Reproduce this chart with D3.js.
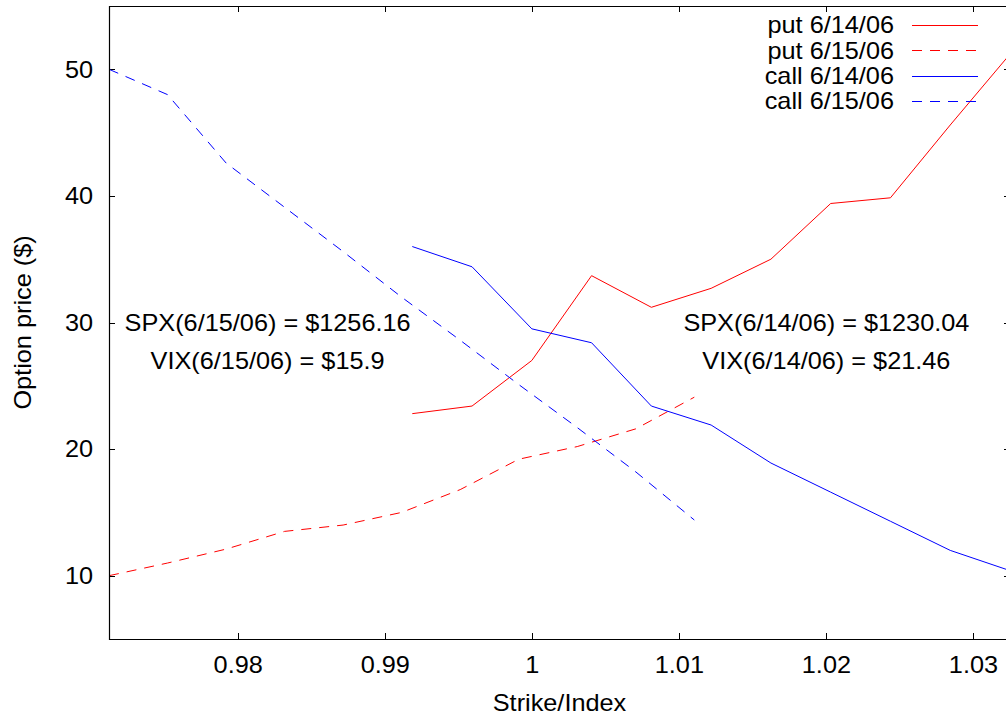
<!DOCTYPE html>
<html>
<head>
<meta charset="utf-8">
<script src="https://cdn.jsdelivr.net/npm/d3@7"></script>
<style>
html,body{margin:0;padding:0;background:#fff;}
svg{display:block;}
text{font-family:"Liberation Sans", Arial, sans-serif;fill:#000;}
</style>
</head>
<body>
<svg id="chart" width="1006" height="717"></svg>
<script>
// ---- data ----
const strikes = [1220, 1225, 1230, 1235, 1240, 1245, 1250, 1255, 1260, 1265, 1270];
const spx0614 = 1230.04;
const spx0615 = 1256.16;
const put0614  = [22.8, 23.4, 27.0, 33.7, 31.2, 32.7, 35.0, 39.4, 39.85, 45.6, 51.2];
const put0615  = [10.0, 11.0, 12.1, 13.5, 14.0, 15.0, 16.8, 19.2, 20.2, 21.6, 24.1];
const call0614 = [36.0, 34.4, 29.5, 28.4, 23.4, 21.9, 18.9, 16.6, 14.3, 12.0, 10.4];
const call0615 = [50.0, 48.0, 42.6, 39.1, 35.6, 32.0, 28.6, 25.1, 21.7, 18.2, 14.4];
const seriesNames = ["put 6/14/06", "put 6/15/06", "call 6/14/06", "call 6/15/06"];
const seriesColors = ["#ff0000", "#ff0000", "#0000ff", "#0000ff"];
const xTicks = [0.98, 0.99, 1, 1.01, 1.02, 1.03];
const yTicks = [10, 20, 30, 40, 50];
const yDomain = [5, 55];
const annotations = [
  {text: "SPX(6/15/06) = $1256.16", x: 0.982, y: 30},
  {text: "VIX(6/15/06) = $15.9",    x: 0.982, y: 27},
  {text: "SPX(6/14/06) = $1230.04", x: 1.02,  y: 30},
  {text: "VIX(6/14/06) = $21.46",   x: 1.02,  y: 27}
];

// ---- layout ----
const L = 109, R = 1010, T = 6, B = 639;
const FS = 23, SX = 1.1;
const svg = d3.select("#chart");
svg.append("rect").attr("width", 1006).attr("height", 717).attr("fill", "#fff");

const x = d3.scaleLinear()
  .domain([strikes[0] / spx0615, strikes[strikes.length - 1] / spx0614])
  .range([L, R]);
const y = d3.scaleLinear().domain(yDomain).range([B, T]);

function label(px, py, str, anchor, rot) {
  const g = svg.append("g")
    .attr("transform", `translate(${px},${py}) rotate(${rot || 0}) scale(${SX},1)`);
  return g.append("text").attr("text-anchor", anchor).attr("font-size", FS).text(str);
}

// clip
svg.append("defs").append("clipPath").attr("id", "clip")
  .append("rect").attr("x", L).attr("y", T).attr("width", R - L).attr("height", B - T);

// ticks (inward, mirrored)
const tk = 6;
const axes = svg.append("g");
function tick(x1, y1, x2, y2) {
  axes.append("line").attr("x1", x1).attr("y1", y1).attr("x2", x2).attr("y2", y2)
    .style("stroke", "#000").style("stroke-width", 1);
}
xTicks.forEach(v => {
  const px = Math.round(x(v)) + 0.5;
  tick(px, B, px, B - tk);
  tick(px, T, px, T + tk);
});
yTicks.forEach(v => {
  const py = Math.round(y(v)) + 0.5;
  tick(L, py, L + tk, py);
  tick(R, py, R - tk, py);
});
// tick labels
xTicks.forEach(v => label(x(v), 673, d3.format("")(v), "middle"));
yTicks.forEach(v => label(93, y(v), v, "end").attr("dy", "0.36em"));

// series
const series = [
  {name: seriesNames[0], vals: put0614,  spx: spx0614, color: seriesColors[0], dash: null},
  {name: seriesNames[1], vals: put0615,  spx: spx0615, color: seriesColors[1], dash: [10, 8]},
  {name: seriesNames[2], vals: call0614, spx: spx0614, color: seriesColors[2], dash: null},
  {name: seriesNames[3], vals: call0615, spx: spx0615, color: seriesColors[3], dash: [10, 8]}
];
const line = d3.line().x(d => x(d[0])).y(d => y(d[1]));
const plot = svg.append("g").attr("clip-path", "url(#clip)");
series.forEach(s => {
  const pts = strikes.map((k, i) => [k / s.spx, s.vals[i]]);
  const p = plot.append("path").datum(pts).attr("d", line)
    .attr("fill", "none").attr("stroke", s.color).attr("stroke-width", 1);
  if (s.dash) p.attr("stroke-dasharray", s.dash.join(","));
});

// border (right edge lies just outside the picture)
svg.append("path")
  .attr("d", `M${R},${T + 0.5}H${L + 0.5}V${B + 0.5}H${R}`)
  .attr("fill", "none").attr("stroke", "#000").attr("stroke-width", 1.2);

// annotations
annotations.forEach(a => label(x(a.x), y(a.y), a.text, "middle").attr("dy", "0.36em"));

// legend: samples drawn as 1px-high filled rectangles (dashes as separate pieces)
const legend = svg.append("g");
series.forEach((s, i) => {
  const cy = 25 + i * 25.3;
  label(894, cy, s.name, "end").attr("dy", "0.36em");
  const ly = Math.round(cy);
  const x0 = 912, x1 = 978;
  if (!s.dash) {
    legend.append("rect").attr("x", x0).attr("y", ly).attr("width", x1 - x0).attr("height", 1)
      .attr("fill", s.color);
  } else {
    for (let a = x0; a < x1; a += s.dash[0] + s.dash[1]) {
      legend.append("rect").attr("x", a).attr("y", ly)
        .attr("width", Math.min(s.dash[0], x1 - a)).attr("height", 1)
        .attr("fill", s.color);
    }
  }
});

// axis titles
label((L + R) / 2, 711, "Strike/Index", "middle");
label(31, (T + B) / 2, "Option price ($)", "middle", -90);
</script>
</body>
</html>
